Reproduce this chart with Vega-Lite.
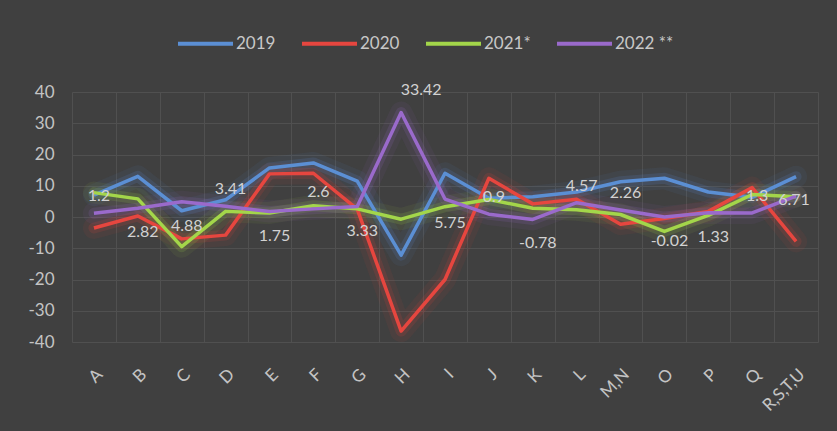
{
  "$schema": "https://vega.github.io/schema/vega-lite/v6.json",
  "autosize": {"type": "none"},
  "width": 746,
  "height": 250,
  "padding": {"left": 72, "top": 92, "right": 19, "bottom": 89},
  "background": "#404040",
  "config": {
    "view": {"stroke": null},
    "font": "Lato",
    "axis": {
      "labelFont": "Lato",
      "labelColor": "#c4c4c4",
      "labelFontSize": 17,
      "gridColor": "#505050",
      "gridWidth": 1,
      "domain": false,
      "ticks": false,
      "title": null
    },
    "legend": {
      "labelFont": "Lato",
      "labelColor": "#c8c8c8",
      "labelFontSize": 17
    }
  },
  "data": {
    "values": [
      {"cat": "A", "series": "2019", "value": 7},
      {"cat": "B", "series": "2019", "value": 13},
      {"cat": "C", "series": "2019", "value": 2},
      {"cat": "D", "series": "2019", "value": 5.5},
      {"cat": "E", "series": "2019", "value": 15.7},
      {"cat": "F", "series": "2019", "value": 17.3},
      {"cat": "G", "series": "2019", "value": 11.5},
      {"cat": "H", "series": "2019", "value": -12.2},
      {"cat": "I", "series": "2019", "value": 14},
      {"cat": "J", "series": "2019", "value": 6},
      {"cat": "K", "series": "2019", "value": 6.5},
      {"cat": "L", "series": "2019", "value": 8},
      {"cat": "M,N", "series": "2019", "value": 11.3},
      {"cat": "O", "series": "2019", "value": 12.4},
      {"cat": "P", "series": "2019", "value": 8},
      {"cat": "Q", "series": "2019", "value": 6.3},
      {"cat": "R,S,T,U", "series": "2019", "value": 12.9},

      {"cat": "A", "series": "2020", "value": -3.5},
      {"cat": "B", "series": "2020", "value": 0.3},
      {"cat": "C", "series": "2020", "value": -7},
      {"cat": "D", "series": "2020", "value": -5.8},
      {"cat": "E", "series": "2020", "value": 13.8},
      {"cat": "F", "series": "2020", "value": 14},
      {"cat": "G", "series": "2020", "value": 2.5},
      {"cat": "H", "series": "2020", "value": -36.5},
      {"cat": "I", "series": "2020", "value": -20},
      {"cat": "J", "series": "2020", "value": 12.4},
      {"cat": "K", "series": "2020", "value": 4.2},
      {"cat": "L", "series": "2020", "value": 5.7},
      {"cat": "M,N", "series": "2020", "value": -2.3},
      {"cat": "O", "series": "2020", "value": -0.5},
      {"cat": "P", "series": "2020", "value": 1.8},
      {"cat": "Q", "series": "2020", "value": 9.4},
      {"cat": "R,S,T,U", "series": "2020", "value": -7.8},

      {"cat": "A", "series": "2021*", "value": 7.8},
      {"cat": "B", "series": "2021*", "value": 5.8},
      {"cat": "C", "series": "2021*", "value": -9.5},
      {"cat": "D", "series": "2021*", "value": 1.8},
      {"cat": "E", "series": "2021*", "value": 1.3},
      {"cat": "F", "series": "2021*", "value": 3.6},
      {"cat": "G", "series": "2021*", "value": 2.6},
      {"cat": "H", "series": "2021*", "value": -0.7},
      {"cat": "I", "series": "2021*", "value": 3.3},
      {"cat": "J", "series": "2021*", "value": 5.6},
      {"cat": "K", "series": "2021*", "value": 2.8},
      {"cat": "L", "series": "2021*", "value": 2.3},
      {"cat": "M,N", "series": "2021*", "value": 0.8},
      {"cat": "O", "series": "2021*", "value": -4.6},
      {"cat": "P", "series": "2021*", "value": 0.5},
      {"cat": "Q", "series": "2021*", "value": 7.2},
      {"cat": "R,S,T,U", "series": "2021*", "value": 6.5},

      {"cat": "A", "series": "2022 **", "value": 1.2},
      {"cat": "B", "series": "2022 **", "value": 2.82},
      {"cat": "C", "series": "2022 **", "value": 4.88},
      {"cat": "D", "series": "2022 **", "value": 3.41},
      {"cat": "E", "series": "2022 **", "value": 1.75},
      {"cat": "F", "series": "2022 **", "value": 2.6},
      {"cat": "G", "series": "2022 **", "value": 3.33},
      {"cat": "H", "series": "2022 **", "value": 33.42},
      {"cat": "I", "series": "2022 **", "value": 5.75},
      {"cat": "J", "series": "2022 **", "value": 0.9},
      {"cat": "K", "series": "2022 **", "value": -0.78},
      {"cat": "L", "series": "2022 **", "value": 4.57},
      {"cat": "M,N", "series": "2022 **", "value": 2.26},
      {"cat": "O", "series": "2022 **", "value": -0.02},
      {"cat": "P", "series": "2022 **", "value": 1.33},
      {"cat": "Q", "series": "2022 **", "value": 1.3},
      {"cat": "R,S,T,U", "series": "2022 **", "value": 6.71}
    ]
  },
  "encoding": {
    "x": {
      "field": "cat",
      "type": "nominal",
      "sort": null,
      "scale": {"paddingInner": 0, "paddingOuter": 0},
      "axis": {
        "labelAngle": -45,
        "labelPadding": 24,
        "grid": true,
        "tickBand": "extent"
      }
    },
    "y": {
      "field": "value",
      "type": "quantitative",
      "scale": {"domain": [-40, 40], "nice": false, "zero": false},
      "axis": {
        "values": [-40, -30, -20, -10, 0, 10, 20, 30, 40],
        "labelExpr": "'' + datum.value",
        "labelPadding": 18,
        "grid": true
      }
    }
  },
  "layer": [
    {
      "mark": {"type": "line", "strokeWidth": 22, "strokeOpacity": 0.07, "strokeCap": "round", "strokeJoin": "round"},
      "encoding": {
        "color": {
          "field": "series",
          "type": "nominal",
          "scale": {"domain": ["2019", "2020", "2021*", "2022 **"], "range": ["#5b8fd4", "#e6463f", "#a3d64a", "#9a6acb"]},
          "legend": {
            "title": null,
            "orient": "none",
            "direction": "horizontal",
            "legendX": 104,
            "legendY": -78,
            "symbolType": "stroke",
            "symbolSize": 3025,
            "symbolOpacity": 1,
            "labelOffset": 1,
            "columnPadding": 18,
            "encode": {
              "symbols": {
                "update": {
                  "opacity": {"value": 1},
                  "strokeOpacity": {"value": 1},
                  "strokeWidth": {"value": 4}
                }
              }
            }
          }
        }
      }
    },
    {
      "mark": {"type": "line", "strokeWidth": 11, "strokeOpacity": 0.15, "strokeCap": "round", "strokeJoin": "round"},
      "encoding": {
        "color": {"field": "series", "type": "nominal"}
      }
    },
    {
      "mark": {"type": "line", "strokeWidth": 3.5, "strokeJoin": "round"},
      "encoding": {
        "color": {"field": "series", "type": "nominal"}
      }
    },
    {
      "transform": [
        {"filter": {"field": "series", "equal": "2022 **"}},
        {"filter": {"field": "cat", "oneOf": ["A", "D", "F", "J", "L", "M,N", "Q"]}}
      ],
      "mark": {"type": "text", "dy": -17, "dx": 5, "fontSize": 16, "color": "#d2d2d2", "font": "Lato"},
      "encoding": {"text": {"field": "value", "type": "nominal"}}
    },
    {
      "transform": [
        {"filter": {"field": "series", "equal": "2022 **"}},
        {"filter": {"field": "cat", "equal": "H"}}
      ],
      "mark": {"type": "text", "dy": -23, "dx": 20, "fontSize": 16, "color": "#d2d2d2", "font": "Lato"},
      "encoding": {"text": {"field": "value", "type": "nominal"}}
    },
    {
      "transform": [
        {"filter": {"field": "series", "equal": "2022 **"}},
        {"filter": {"field": "cat", "oneOf": ["B", "C", "E", "G", "I", "K", "O", "P"]}}
      ],
      "mark": {"type": "text", "dy": 24, "dx": 5, "fontSize": 16, "color": "#d2d2d2", "font": "Lato"},
      "encoding": {"text": {"field": "value", "type": "nominal"}}
    },
    {
      "transform": [
        {"filter": {"field": "series", "equal": "2022 **"}},
        {"filter": {"field": "cat", "equal": "R,S,T,U"}}
      ],
      "mark": {"type": "text", "dy": 4, "dx": -2, "fontSize": 16, "color": "#d2d2d2", "font": "Lato"},
      "encoding": {"text": {"field": "value", "type": "nominal"}}
    }
  ]
}
